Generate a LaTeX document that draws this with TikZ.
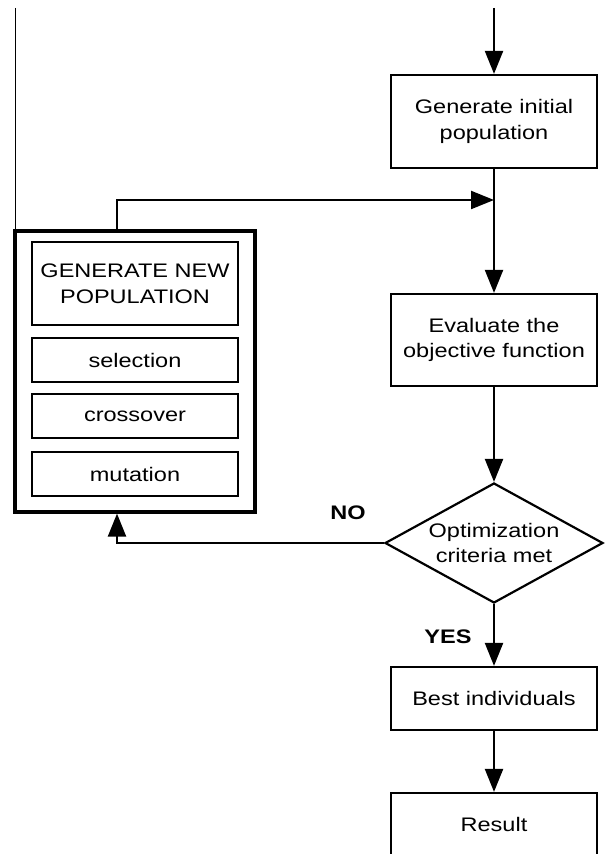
\documentclass[tikz,border=0pt]{standalone}
\usepackage{fontspec}
\setmainfont[FakeStretch=1.2]{Liberation Sans}
\usetikzlibrary{shapes.geometric,arrows.meta,positioning}

\begin{document}
\begin{tikzpicture}[x=0.5pt,y=-0.5pt,
    font=\fontsize{9.8}{12.85}\selectfont,
    flow/.style={line width=1.1pt,-{Triangle[length=11.5pt,width=9pt]}},
    box/.style={draw,line width=1.1pt,shape=rectangle,align=center,minimum width=103pt},
    inbox/.style={draw,line width=0.8pt,shape=rectangle,align=center,inner sep=2pt,minimum width=103pt,minimum height=22pt},
    outer/.style={draw,line width=1.6pt,shape=rectangle,minimum width=120pt,minimum height=140.5pt},
    decide/.style={draw,line width=1.1pt,shape=diamond,aspect=1.8,inner sep=0pt,align=center,minimum width=109pt,minimum height=60pt},
    tag/.style={font=\fontsize{9.8}{12.85}\selectfont\bfseries}]
   \useasboundingbox (0,0) rectangle (610,854);
   \clip (0,0) rectangle (610,854);

   % main column
   \path (494,121.5) node[box,minimum height=46.5pt] (gen) {Generate initial\\population};
   \path (494,340) node[box,minimum height=46pt] (eval) {Evaluate the\\objective function};
   \path (494,543) node[decide] (crit) {Optimization\\criteria met};
   \path (494,698.5) node[box,minimum height=31.5pt] (best) {Best individuals};
   \path (494,824.5) node[box,minimum height=31.5pt] (res) {Result};

   % new population block
   \path (135,371.5) node[outer] (genpop) {};
   \path (135,283.5) node[inbox,minimum height=41.5pt] (head) {GENERATE NEW\\POPULATION};
   \path (135,360) node[inbox] (sel) {selection};
   \path (135,416) node[inbox] (cross) {crossover};
   \path (135,474) node[inbox] (mut) {mutation};

   \path (348,513) node[tag] (no) {NO};
   \path (448,637) node[tag] (yes) {YES};

   \coordinate (start) at (494,8);
   \coordinate (join) at (494,200);
   \coordinate (loopx) at (117,543);
   \coordinate (edge) at (15,8);

   \draw[flow] (start) -- (gen);
   \draw[flow] (gen) -- (eval);
   \draw[flow] (genpop.north -| loopx) |- (join);
   \draw[flow] (eval) -- (crit);
   \draw[flow] (crit.west) -- (crit.west -| loopx) -- (genpop.south -| loopx);
   \draw[flow] (crit) -- (best);
   \draw[flow] (best) -- (res);
   \draw[line width=0.5pt] (edge) -- (edge |- genpop.north);
\end{tikzpicture}
\end{document}
